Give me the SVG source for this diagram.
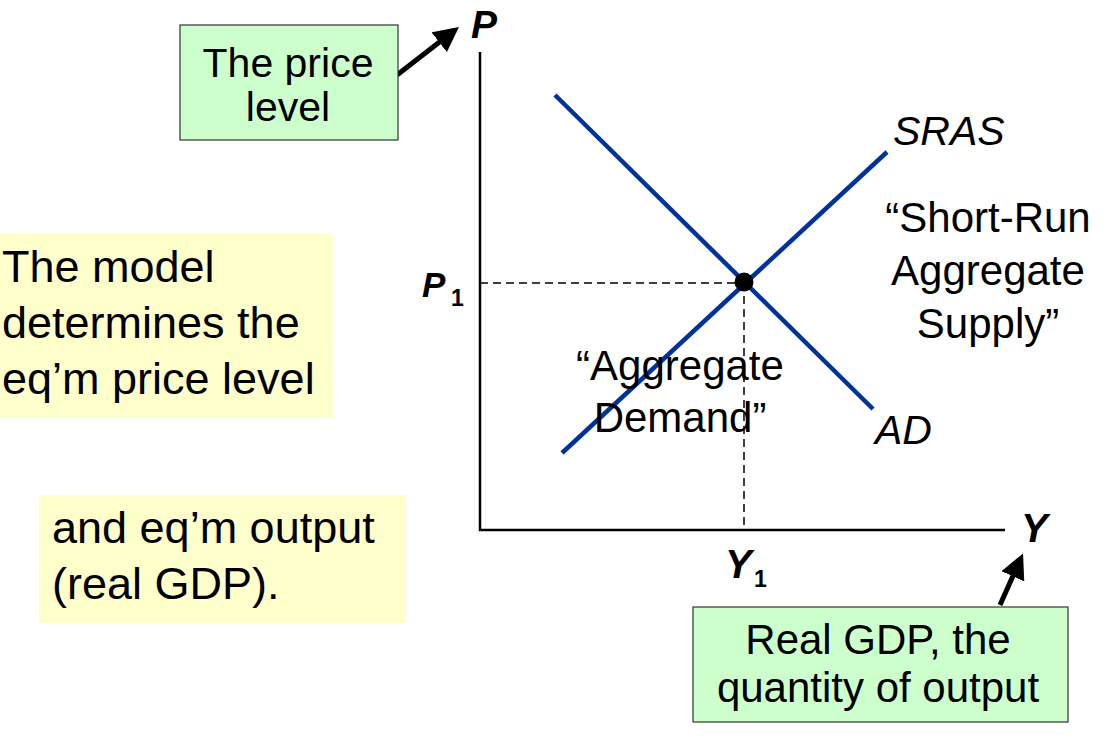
<svg xmlns="http://www.w3.org/2000/svg" width="1103" height="736" viewBox="0 0 1103 736">
<defs>
<style>
text{font-family:"Liberation Sans",Arial,sans-serif;fill:#000}
.box-g{fill:#CCFFCC;stroke:#333;stroke-width:1.2}
.box-y{fill:#FFFFCC;stroke:none}
.t41{font-size:41px}
.t42{font-size:42px}
.t45{font-size:45px}
.ax{stroke:#000;stroke-width:2.5;fill:none}
.dash{stroke:#000;stroke-width:1.5;stroke-dasharray:8,5;fill:none}
.curve{stroke:#003399;stroke-width:4.5;fill:none}
.bi{font-weight:bold;font-style:italic}
.it{font-style:italic}
.arr{stroke:#000;stroke-width:5;fill:none}
</style>
<marker id="ah" viewBox="0 0 10 10" refX="8" refY="5" markerWidth="5" markerHeight="5" markerUnits="strokeWidth" orient="auto">
<path d="M0,0 L10,5 L0,10 z" fill="#000"/>
</marker>
</defs>
<rect width="1103" height="736" fill="#fff"/>

<g id="axes">
<line class="ax" x1="480" y1="52" x2="480" y2="531"/>
<line class="ax" x1="479" y1="530" x2="1005" y2="530"/>
<text class="bi" x="471" y="38" font-size="39">P</text>
<text class="bi" x="1021" y="542" font-size="40">Y</text>
</g>

<g id="connectors">
<line class="dash" x1="480" y1="283" x2="744" y2="283"/>
<line class="dash" x1="744" y1="283" x2="744" y2="530"/>
<line class="arr" x1="397" y1="75" x2="455" y2="30" marker-end="url(#ah)"/>
<line class="arr" x1="1000" y1="605" x2="1021" y2="558" marker-end="url(#ah)"/>
</g>

<g id="ad-curve">
<line class="curve" x1="555" y1="95" x2="873" y2="409"/>
<text class="it t41" x="875" y="444">AD</text>
</g>
<g id="sras-curve">
<line class="curve" x1="562" y1="453" x2="887" y2="152"/>
<text class="it t41" x="893" y="145">SRAS</text>
</g>

<g id="equilibrium">
<circle cx="744" cy="282" r="9.5" fill="#000"/>
<text class="bi" x="422" y="297" font-size="35">P</text>
<text font-weight="bold" x="451" y="306" font-size="23">1</text>
<text class="bi" x="725" y="578" font-size="40">Y</text>
<text font-weight="bold" x="754" y="587" font-size="23">1</text>
</g>

<g id="sras-label">
<text class="t42" text-anchor="middle" x="988" y="232">“Short-Run</text>
<text class="t42" text-anchor="middle" x="988" y="285">Aggregate</text>
<text class="t42" text-anchor="middle" x="988" y="338">Supply”</text>
</g>

<g id="ad-label">
<text class="t42" text-anchor="middle" x="680" y="380">“Aggregate</text>
<text class="t42" text-anchor="middle" x="680" y="432">Demand”</text>
</g>

<g id="price-level-box">
<rect class="box-g" x="180" y="25" width="218" height="115"/>
<text class="t41" text-anchor="middle" x="288" y="77">The price</text>
<text class="t41" text-anchor="middle" x="288" y="121">level</text>
</g>

<g id="real-gdp-box">
<rect class="box-g" x="693" y="607" width="375" height="115"/>
<text class="t42" text-anchor="middle" x="878" y="654">Real GDP, the</text>
<text class="t42" text-anchor="middle" x="878" y="702">quantity of output</text>
</g>

<g id="model-note">
<rect class="box-y" x="0" y="233" width="333" height="185"/>
<text class="t45" x="2" y="282">The model</text>
<text class="t45" x="2" y="338">determines the</text>
<text class="t45" x="2" y="394">eq’m price level</text>
</g>

<g id="output-note">
<rect class="box-y" x="39" y="495" width="367" height="128"/>
<text class="t45" x="52" y="543">and eq’m output</text>
<text class="t45" x="52" y="599">(real GDP).</text>
</g>
</svg>
